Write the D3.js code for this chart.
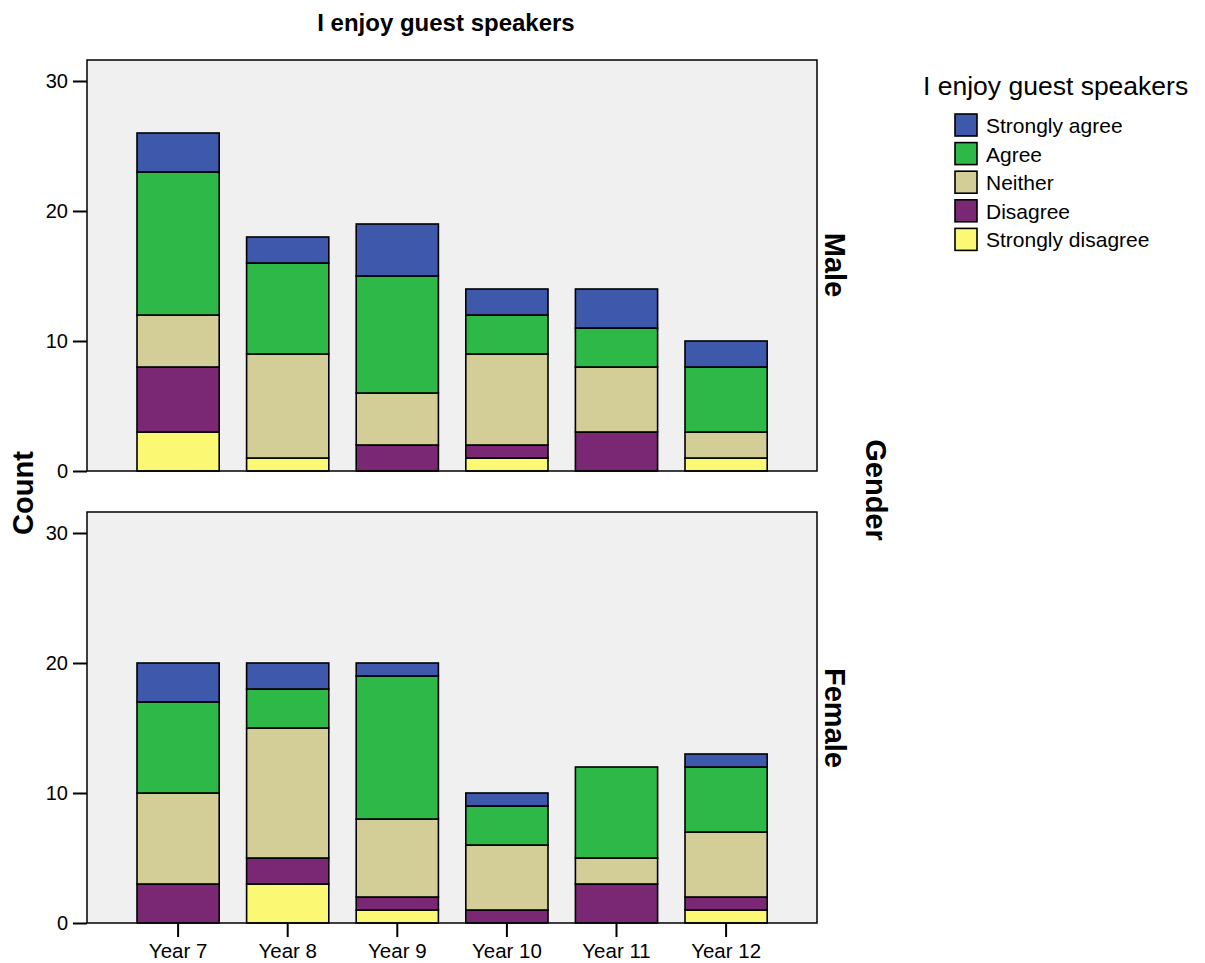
<!DOCTYPE html>
<html><head><meta charset="utf-8">
<script src="https://cdn.jsdelivr.net/npm/d3@7"></script>
<style>body{margin:0;background:#fff}text{font-family:"Liberation Sans",Arial,sans-serif}</style>
</head><body>
<svg id="c" width="1205" height="963"></svg>
<script>
const years = ["Year 7","Year 8","Year 9","Year 10","Year 11","Year 12"];
const responses = ["Strongly disagree","Disagree","Neither","Agree","Strongly agree"];
const legendOrder = ["Strongly agree","Agree","Neither","Disagree","Strongly disagree"];
const colors = ["#fbf873","#7a2873","#d3ce97","#2eb848","#3e58ac"];
const panels = ["Male","Female"];
// counts per year: [SD, D, N, A, SA]
const maleCounts = [[3,5,4,11,3],[1,0,8,7,2],[0,2,4,9,4],[1,1,7,3,2],[0,3,5,3,3],[1,0,2,5,2]];
const femaleCounts = [[0,3,7,7,3],[3,2,10,3,2],[1,1,6,11,1],[0,1,5,3,1],[0,3,2,7,0],[1,1,5,5,1]];
const yTicks = [0,10,20,30];

const svg = d3.select("#c");
const color = d3.scaleOrdinal(responses, colors);
const x = d3.scaleBand(years, [123.3, 780.9]).paddingInner(0.25).paddingOuter(0.125);
const left = 87, right = 817;
const panelDefs = [
  {name:panels[0], data:maleCounts, top:60, bottom:471, labelY:265},
  {name:panels[1], data:femaleCounts, top:512, bottom:923, labelY:718}
];
panelDefs.forEach((p, pi) => {
  const y = d3.scaleLinear([0, 31.615], [p.bottom, p.top]);
  const g = svg.append("g");
  g.append("rect").attr("x", left).attr("y", p.top).attr("width", right-left).attr("height", p.bottom-p.top)
    .attr("fill", "#f0f0f0").attr("stroke", "none");
  const rows = years.map((yr, i) => { const o = {year: yr}; responses.forEach((r, j) => o[r] = p.data[i][j]); return o; });
  const stack = d3.stack().keys(responses)(rows);
  stack.forEach(layer => {
    g.selectAll(null).data(layer.filter(d => d[1] > d[0])).join("rect")
      .attr("x", d => x(d.data.year)).attr("width", x.bandwidth())
      .attr("y", d => y(d[1])).attr("height", d => y(d[0]) - y(d[1]))
      .attr("fill", color(layer.key)).attr("stroke", "#000").attr("stroke-width", 1.6);
  });
  g.append("rect").attr("x", left).attr("y", p.top).attr("width", right-left).attr("height", p.bottom-p.top)
    .attr("fill", "none").attr("stroke", "#000").attr("stroke-width", 1.5);
  const ya = g.append("g").attr("transform", `translate(${left},0)`)
    .call(d3.axisLeft(y).tickValues(yTicks).tickSize(14).tickPadding(5));
  ya.select(".domain").remove();
  ya.selectAll("line").attr("stroke-width", 2);
  ya.selectAll("text").style("font-size", "20px").attr("fill", "#000");
  g.append("text").attr("transform", `translate(825,${p.labelY}) rotate(90)`)
    .attr("text-anchor", "middle").style("font-size", "29px").style("font-weight", "bold").text(p.name);
  if (pi === 1) {
    const xa = g.append("g").attr("transform", `translate(0,${p.bottom})`)
      .call(d3.axisBottom(x).tickSize(14).tickPadding(6));
    xa.select(".domain").remove();
    xa.selectAll("line").attr("stroke-width", 2);
    xa.selectAll("text").style("font-size", "20.5px").attr("fill", "#000");
  }
});
svg.append("text").attr("x", 446).attr("y", 31).attr("text-anchor", "middle")
  .style("font-size", "24px").style("font-weight", "bold").text("I enjoy guest speakers");
svg.append("text").attr("transform", "translate(33,493) rotate(-90)").attr("text-anchor", "middle")
  .style("font-size", "29px").style("font-weight", "bold").text("Count");
svg.append("text").attr("transform", "translate(866,490) rotate(90)").attr("text-anchor", "middle")
  .style("font-size", "29px").style("font-weight", "bold").text("Gender");
const lg = svg.append("g");
lg.append("text").attr("x", 923).attr("y", 95).style("font-size", "26.5px").text("I enjoy guest speakers");
legendOrder.forEach((k, i) => {
  const yy = 114 + i * 28.6;
  lg.append("rect").attr("x", 955).attr("y", yy).attr("width", 22).attr("height", 22)
    .attr("fill", color(k)).attr("stroke", "#000").attr("stroke-width", 1.6);
  lg.append("text").attr("x", 986).attr("y", yy + 19).style("font-size", "21px").text(k);
});
</script>
</body></html>
